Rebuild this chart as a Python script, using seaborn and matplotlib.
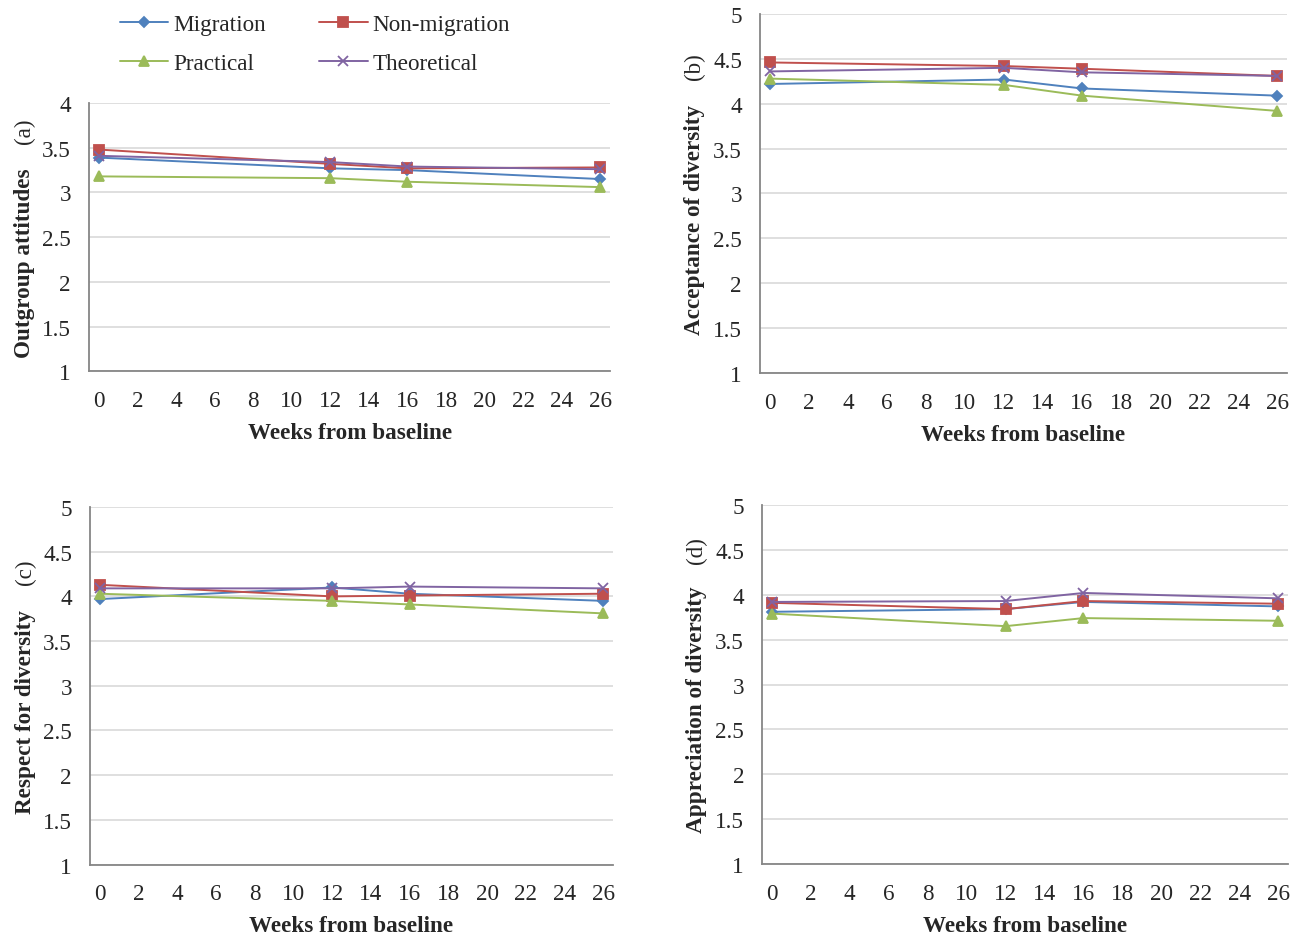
import matplotlib
matplotlib.use("Agg")
import numpy as np
import pandas as pd
import seaborn as sns
import matplotlib.pyplot as plt

sns.set_style("white")
plt.rcParams["font.family"] = ["Liberation Serif", "DejaVu Serif"]

# weeks from baseline at which data were collected
weeks = [0, 12, 16, 26]
groups = ["Migration", "Non-migration", "Practical", "Theoretical"]

# (a) Outgroup attitudes
outgroup = {
    "Migration":     [3.39, 3.27, 3.25, 3.15],
    "Non-migration": [3.48, 3.32, 3.27, 3.28],
    "Practical":     [3.18, 3.16, 3.12, 3.06],
    "Theoretical":   [3.41, 3.34, 3.29, 3.26],
}
# (b) Acceptance of diversity
acceptance = {
    "Migration":     [4.22, 4.27, 4.17, 4.09],
    "Non-migration": [4.46, 4.42, 4.39, 4.31],
    "Practical":     [4.28, 4.21, 4.09, 3.92],
    "Theoretical":   [4.36, 4.40, 4.35, 4.31],
}
# (c) Respect for diversity
respect = {
    "Migration":     [3.97, 4.10, 4.03, 3.95],
    "Non-migration": [4.13, 4.00, 4.01, 4.03],
    "Practical":     [4.03, 3.95, 3.91, 3.81],
    "Theoretical":   [4.09, 4.09, 4.11, 4.09],
}
# (d) Appreciation of diversity
appreciation = {
    "Migration":     [3.81, 3.84, 3.92, 3.87],
    "Non-migration": [3.91, 3.84, 3.93, 3.90],
    "Practical":     [3.79, 3.65, 3.74, 3.71],
    "Theoretical":   [3.92, 3.93, 4.02, 3.96],
}

colors = {"Migration": "#4F81BD", "Non-migration": "#C0504D",
          "Practical": "#9BBB59", "Theoretical": "#8064A2"}
markers = {"Migration": "D", "Non-migration": "s",
           "Practical": "^", "Theoretical": "x"}
msizes = {"Migration": 5.5, "Non-migration": 7, "Practical": 7, "Theoretical": 7.5}

panels = [
    ("Outgroup attitudes", "(a)", outgroup, (1, 4), [0.0685, 0.6025, 0.4008, 0.2865], 0.408, 0.90),
    ("Acceptance of diversity", "(b)", acceptance, (1, 5), [0.5846, 0.6009, 0.4054, 0.3831], 0.429, 0.855),
    ("Respect for diversity", "(c)", respect, (1, 5), [0.0692, 0.0763, 0.4023, 0.3815], 0.429, 0.821),
    ("Appreciation of diversity", "(d)", appreciation, (1, 5), [0.5862, 0.0768, 0.4046, 0.3832], 0.432, 0.877),
]

fs = 16.7
gray = "#868686"

fig = plt.figure(figsize=(13, 9.37), dpi=100)

for ylab, tag, vals, ylim, rect, ylab_y, tag_y in panels:
    ax = fig.add_axes(rect)
    long = pd.DataFrame([(g, w, v) for g in groups for w, v in zip(weeks, vals[g])],
                        columns=["group", "week", "value"])
    for g in groups:
        sub = long[long["group"] == g]
        sns.lineplot(data=sub, x="week", y="value", ax=ax, color=colors[g],
                     marker=markers[g], markersize=msizes[g], markeredgewidth=1.3,
                     markeredgecolor=colors[g], linewidth=1.4, label=g, legend=False)
    yt = np.arange(ylim[0], ylim[1] + 0.01, 0.5)
    ax.set_xlim(-0.5, 26.5)
    ax.set_ylim(*ylim)
    ax.set_yticks(yt)
    ax.set_yticklabels([f"{t:g}" for t in yt])
    ax.set_xticks(np.arange(0, 27, 2))
    ax.set_xticks(np.arange(-0.5, 26, 2), minor=True)
    ax.tick_params(axis="x", which="major", length=0, pad=13.5, labelsize=fs)
    ax.tick_params(axis="x", which="minor", length=5, width=1.1, color=gray, direction="out")
    ax.tick_params(axis="y", length=5, width=1.1, color=gray, direction="out", pad=8, labelsize=fs)
    ax.grid(axis="y", color="#d9d9d9", linewidth=1.2)
    ax.set_axisbelow(True)
    for s in ["top", "right"]:
        ax.spines[s].set_visible(False)
    for s in ["left", "bottom"]:
        ax.spines[s].set_color(gray)
        ax.spines[s].set_linewidth(1.3)
    ax.set_xlabel("Weeks from baseline", fontsize=fs, fontweight="bold", labelpad=8)
    ax.set_ylabel(ylab, fontsize=fs, fontweight="bold", va="center")
    ax.yaxis.set_label_coords(-0.124, ylab_y)
    ax.text(-0.124, tag_y, tag, transform=ax.transAxes, rotation=90,
            ha="center", va="center", fontsize=fs)

handles, labels = fig.axes[0].get_legend_handles_labels()
order = [0, 2, 1, 3]
fig.legend([handles[i] for i in order], [labels[i] for i in order],
           loc="upper left", bbox_to_anchor=(0.076, 1.006), ncol=2, frameon=False,
           fontsize=fs, handlelength=2.1, handletextpad=0.2, columnspacing=2.3,
           labelspacing=0.75)

fig.savefig("out.png", dpi=100)
